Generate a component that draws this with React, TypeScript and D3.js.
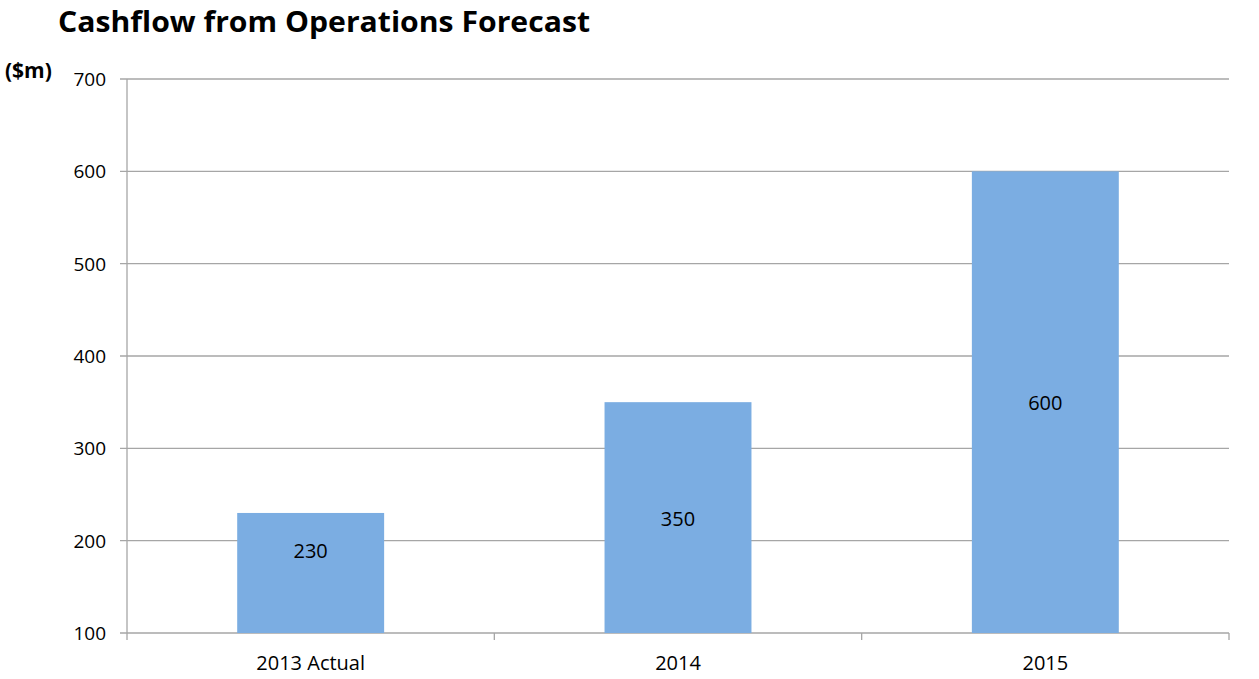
import { useEffect, useRef } from "react";
import * as d3 from "d3";

const categories = ["2013 Actual", "2014", "2015"];
const values = [230, 350, 600];
const yTicks = [100, 200, 300, 400, 500, 600, 700];

const WIDTH = 1259;
const HEIGHT = 679;
const MARGIN = { top: 79, right: 30, bottom: 46, left: 127 };
const FONT = "'Open Sans', 'Noto Sans', sans-serif";
const GRID = "#a6a6a6";
const BAR = "#7bade2";

export default function App() {
  const ref = useRef<SVGGElement>(null);
  const boundsWidth = WIDTH - MARGIN.left - MARGIN.right;
  const boundsHeight = HEIGHT - MARGIN.top - MARGIN.bottom;

  useEffect(() => {
    if (!ref.current) return;
    const g = d3.select(ref.current);
    g.selectAll("*").remove();

    const x = d3.scaleBand().domain(categories).range([0, boundsWidth]).paddingInner(0.6).paddingOuter(0.3);
    const outer = d3.scaleBand().domain(categories).range([0, boundsWidth]);
    const y = d3.scaleLinear().domain([100, 700]).range([boundsHeight, 0]);

    // gridlines with outward tick
    g.append("g")
      .selectAll("line")
      .data(yTicks)
      .join("line")
      .attr("x1", -7)
      .attr("x2", boundsWidth)
      .attr("y1", (d) => y(d))
      .attr("y2", (d) => y(d))
      .attr("stroke", GRID)
      .attr("stroke-width", 1.3);

    g.append("g")
      .selectAll("text")
      .data(yTicks)
      .join("text")
      .attr("x", -21)
      .attr("y", (d) => y(d))
      .attr("dy", "0.36em")
      .attr("text-anchor", "end")
      .attr("font-family", FONT)
      .attr("font-size", 19)
      .attr("fill", "#000")
      .text((d) => d);

    // y axis line
    g.append("line")
      .attr("x1", 0)
      .attr("x2", 0)
      .attr("y1", 0)
      .attr("y2", boundsHeight + 7)
      .attr("stroke", GRID)
      .attr("stroke-width", 1.3);

    // category ticks
    const tickXs = [...categories.map((c) => outer(c)!), boundsWidth];
    g.append("g")
      .selectAll("line")
      .data(tickXs.slice(1))
      .join("line")
      .attr("x1", (d) => d)
      .attr("x2", (d) => d)
      .attr("y1", boundsHeight)
      .attr("y2", boundsHeight + 7)
      .attr("stroke", GRID)
      .attr("stroke-width", 1.3);

    // bars
    g.append("g")
      .selectAll("rect")
      .data(values)
      .join("rect")
      .attr("x", (_, i) => x(categories[i])!)
      .attr("width", x.bandwidth())
      .attr("y", (d) => y(d))
      .attr("height", (d) => boundsHeight - y(d))
      .attr("fill", BAR);

    // value labels: centred, but kept clear of the axis on short bars
    g.append("g")
      .selectAll("text")
      .data(values)
      .join("text")
      .attr("x", (_, i) => x(categories[i])! + x.bandwidth() / 2)
      .attr("y", (d) => Math.min((y(d) + boundsHeight) / 2 + 1, boundsHeight - 82))
      .attr("dy", "0.36em")
      .attr("text-anchor", "middle")
      .attr("font-family", FONT)
      .attr("font-size", 20)
      .attr("fill", "#000")
      .text((d) => d);

    // x labels
    g.append("g")
      .selectAll("text")
      .data(categories)
      .join("text")
      .attr("x", (d) => outer(d)! + outer.bandwidth() / 2)
      .attr("y", boundsHeight + 30)
      .attr("dy", "0.36em")
      .attr("text-anchor", "middle")
      .attr("font-family", FONT)
      .attr("font-size", 20)
      .attr("fill", "#000")
      .text((d) => d);
  }, [boundsWidth, boundsHeight]);

  return (
    <svg
      width={WIDTH}
      height={HEIGHT}
      viewBox={`0 0 ${WIDTH} ${HEIGHT}`}
      style={{ position: "absolute", left: 0, top: 0, background: "#fff" }}
    >
      <text x={58} y={32} fontFamily={FONT} fontWeight="bold" fontSize={29} fill="#000" textLength={532} lengthAdjust="spacingAndGlyphs">
        Cashflow from Operations Forecast
      </text>
      <text x={5} y={78} fontFamily={FONT} fontWeight="bold" fontSize={21} fill="#000">
        ($m)
      </text>
      <g ref={ref} transform={`translate(${MARGIN.left},${MARGIN.top})`} />
    </svg>
  );
}
